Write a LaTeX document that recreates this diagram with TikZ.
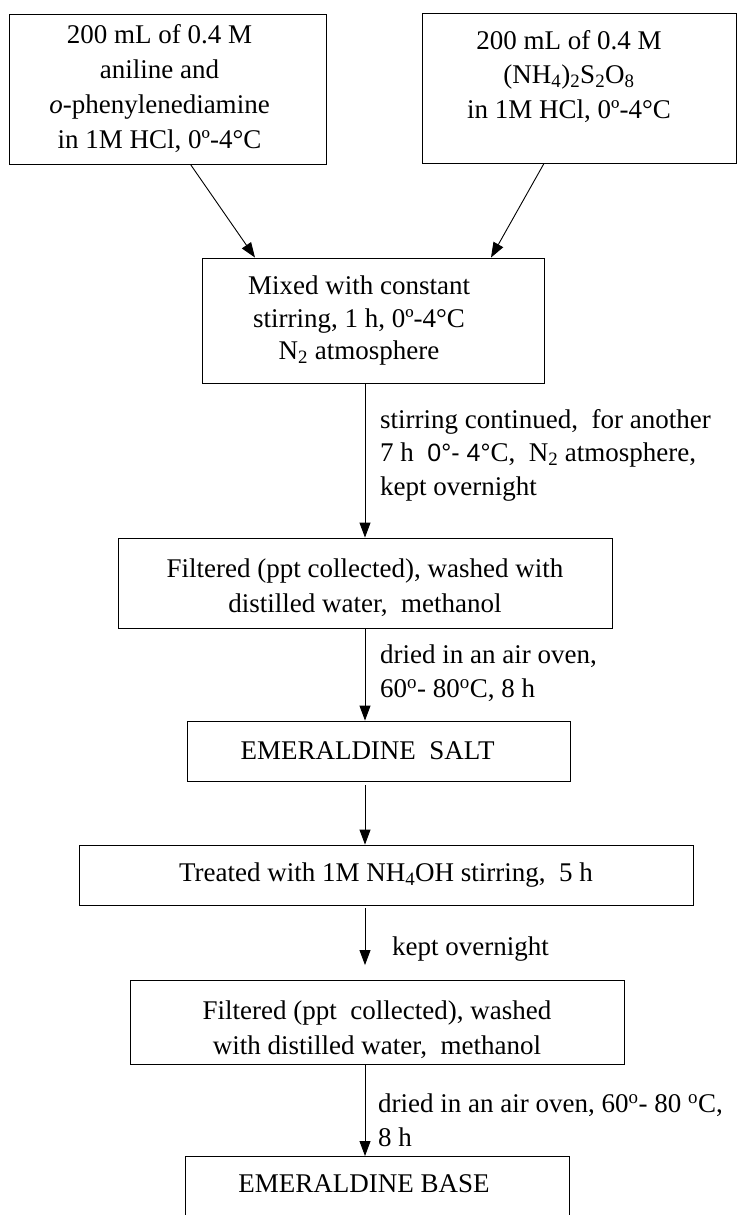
\documentclass[tikz,border=0pt]{standalone}
\usepackage{fontspec}
\setmainfont{Liberation Serif}
\newfontfamily\sansf{Liberation Sans}
\usetikzlibrary{arrows.meta,calc}
\begin{document}
\begin{tikzpicture}[x=1pt,y=-1pt,
  box/.style={draw, line width=0.9pt, align=center, inner sep=0pt, font=\fontsize{27}{35}\selectfont},
  lbl/.style={anchor=north west, align=left, inner sep=0pt, font=\fontsize{27}{33.5}\selectfont},
  arr/.style={line width=0.9pt, -{Triangle[length=15pt,width=11pt]}}]
\useasboundingbox (0,0) rectangle (737,1215);
\clip (0,0) rectangle (737,1215);
\fill[white] (0,0) rectangle (737,1215);

\node[box, minimum width=317pt, minimum height=150pt] (A) at (167.5,89)
  {\begin{tabular}{@{}c@{\hspace{16pt}}}200 mL of 0.4 M\\aniline and\\\textit{o}-phenylenediamine\\in 1M HCl, 0º-4°C\end{tabular}};
\node[box, minimum width=314pt, minimum height=150pt] (B) at (579,88)
  {\begin{tabular}{@{}c@{\hspace{20pt}}}200 mL of 0.4 M\\(NH\textsubscript{4})\textsubscript{2}S\textsubscript{2}O\textsubscript{8}\\in 1M HCl, 0º-4°C\\[-13pt]\mbox{}\end{tabular}};
\node[box, minimum width=342pt, minimum height=125pt, font=\fontsize{27}{32.5}\selectfont] (C) at (373,320.5)
  {\begin{tabular}{@{}c@{\hspace{28pt}}}Mixed with constant\\stirring, 1 h, 0º-4°C\\N\textsubscript{2} atmosphere\end{tabular}};
\node[box, minimum width=494pt, minimum height=90pt] (D) at (365,583)
  {\begin{tabular}{@{}c@{}}\mbox{}\\[-25pt]Filtered (ppt collected), washed with\\distilled water,\ \ methanol\end{tabular}};
\node[box, minimum width=383pt, minimum height=60pt] (E) at (378.5,751)
  {EMERALDINE\ \ SALT\hspace*{22pt}};
\node[box, minimum width=614pt, minimum height=60pt] (F) at (386,875)
  {Treated with 1M NH\textsubscript{4}OH stirring,\ \ 5 h};
\node[box, minimum width=494pt, minimum height=79pt] (G) at (377,1022.5)
  {\begin{tabular}{@{}c@{}}\mbox{}\\[-21pt]Filtered (ppt\ \ collected), washed\\with distilled water,\ \ methanol\end{tabular}};
\node[box, anchor=north, minimum width=384pt, minimum height=134pt] (H) at (377,1156)
  {EMERALDINE BASE\hspace*{26pt}\\\strut\\\strut};

\node[lbl] (L1) at (380,409)
  {stirring continued,\ \ for another\\7 h\ \ {\sansf\fontsize{25}{33.5}\selectfont 0°- 4°}C,\ \ N\textsubscript{2} atmosphere,\\kept overnight};
\node[lbl] (L2) at (380,645)
  {dried in an air oven,\\60\textsuperscript{o}- 80\textsuperscript{o}C, 8 h};
\node[lbl] (L3) at (392,937) {kept overnight};
\node[lbl] (L4) at (378,1094)
  {dried in an air oven, 60\textsuperscript{o}- 80 \textsuperscript{o}C,\\8 h};

\draw[arr] ($(A.south)+(23,0)$) -- ($(C.north)+(-118,0)$);
\draw[arr] ($(B.south)+(-35,0)$) -- ($(C.north)+(118,0)$);
\draw[arr] (C.south -| D.north) -- (D.north);
\draw[arr] (D.south) -- (D.south |- E.north);
\draw[arr] ($(E.south -| D.south)+(0,4)$) -- (D.south |- F.north);
\draw[arr] ($(F.south -| D.south)+(0,3)$) -- ($(G.north -| D.south)+(0,-15)$);
\draw[arr] (D.south |- G.south) -- (D.south |- H.north);
\end{tikzpicture}
\end{document}
